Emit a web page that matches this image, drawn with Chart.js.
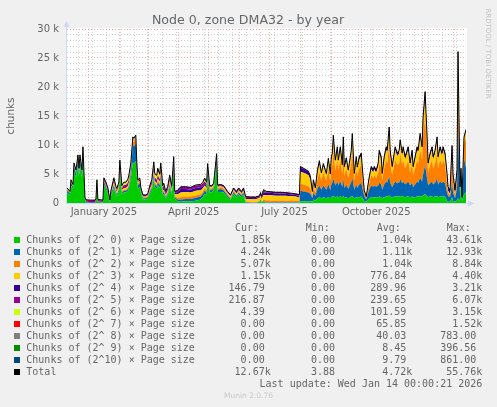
<!DOCTYPE html>
<html>
<head>
<meta charset="utf-8">
<script src="https://cdn.jsdelivr.net/npm/chart.js@4.4.1/dist/chart.umd.min.js"></script>
<style>
html, body { margin: 0; padding: 0; background: #f0f0f0; }
#wrap { position: relative; width: 497px; height: 407px; overflow: hidden; }
#wrap canvas { position: absolute; left: 0; top: 0; }
.lg { position: absolute; font: 10px "DejaVu Sans Mono", monospace; color: #666; white-space: pre; line-height: 12px; }
.sw { position: absolute; width: 6px; height: 6px; }
</style>
</head>
<body>
<div id="wrap"><canvas id="chart" width="497" height="407"></canvas></div>
<script>
// days since 2024-12-10 (left edge of the year graph)
const days = [
  0,3,4,6,7,9,11,12,13,15, 16,18,19,24,28,29,30,31,36,37,
  39,41,43,44,47,49,50,52,53,55, 57,59,61,62,64,66,67,69,70,71,
  73,74,76,79,81,83,85,87,88,90, 91,93,94,96,97,99,101,103,105,107,
  108,111,114,119,124,129,134,136,138,140, 141,143,145,147,150,151,154,157,161,164,
  167,170,172,175,177,179,184,189,193,194, 195,197,200,204,209,214,219,224,229,233,
  234,237,240,242,244,246,247,249,251,253, 255,257,260,262,264,265,266,267,269,271,
  272,274,276,277,278,280,282,283,285,286, 288,290,291,293,295,296,298,300,302,303,
  305,307,308,310,312,313,315,316,318,320, 321,323,324,326,328,329,331,333,334,336,
  337,339,341,342,344,346,347,349,351,352, 354,356,357,359,361,362,364,366,367,369,
  371,372,374,376,377,379,381,382,384,386, 387,389,391,392,394,395,396,398,400
];

// values in thousands of chunks
const order0 = [
  1.8,1.4,3.0,2.4,5.4,4.4,6.5,4.6,6.5,4.5, 7.7,0.6,0.1,0,0,0.3,3.2,0.2,0.1,3.2,
  2.4,1.6,0.1,1.2,2.6,1.6,1.2,2.0,5.1,1.6, 1.8,1.8,2.1,2.5,4.3,7.0,6.8,7.2,4.7,2.5,
  2.7,1.8,0.6,0.6,0.8,1.6,2.2,4.3,2.8,2.4, 3.1,2.6,4.1,1.4,1.6,0.8,1.4,2.8,1.4,5.5,
  0.8,0.3,0.2,0.3,0.3,0.4,0.6,1.0,1.6,1.4, 4.3,1.8,1.8,2.2,6.7,1.9,1.9,1.8,1.0,0.5,
  1.6,0.9,1.5,1.0,1.5,0.1,0,0,0.2,0.6, 0.1,0.2,0.05,0.05,0.05,0.05,0.05,0.05,0.05,0.05,
  0.3,0.3,0.3,0.3,0.3,0.2,0.6,0.4,0.8,1.0, 0.8,1.0,0.8,1.0,0.8,1.0,1.1,1.2,1.0,1.1,
  1.0,1.1,1.0,1.2,0.9,1.0,0.8,0.9,1.1,1.2, 0.8,1.0,0.9,1.0,1.1,0.9,0.4,0.2,0.6,0.8,
  1.0,1.0,1.0,1.0,1.0,1.1,1.0,0.8,1.0,1.1, 1.1,1.3,1.1,0.9,1.1,1.1,1.1,1.1,1.2,1.1,
  1.1,1.0,1.1,1.1,1.0,1.1,0.9,1.0,1.1,1.1, 1.2,1.1,1.3,1.5,1.2,1.0,1.1,1.1,1.0,1.1,
  1.2,1.0,1.1,1.1,1.1,1.1,0.3,0.2,0.2,1.0, 0.4,0.2,0.5,0.8,0.4,5.0,0.3,1.5,1.85
];
const order1 = [
  0.3,0.3,0.5,0.4,0.8,0.7,1.0,0.7,1.0,0.7, 1.1,0.2,0.05,0.05,0.05,0.05,0.3,0.05,0.05,0.4,
  0.4,0.3,0.1,0.3,0.4,0.3,0.3,0.3,0.6,0.2, 0.3,0.3,0.3,0.4,0.7,3.0,3.0,3.0,1.5,0.6,
  0.6,0.4,0.2,0.2,0.2,0.3,0.4,0.6,0.4,0.4, 0.5,0.4,0.6,0.3,0.3,0.2,0.3,0.4,0.3,0.6,
  0.2,0.3,0.4,0.4,0.4,0.5,0.5,0.5,0.5,0.4, 0.7,0.4,0.4,0.4,0.8,0.4,0.5,0.4,0.3,0.2,
  0.3,0.3,0.3,0.3,0.3,0.1,0.05,0.05,0.05,0.1, 0.05,0.1,0.1,0.1,0.1,0.1,0.1,0.1,0.1,0.1,
  1.8,1.7,1.6,1.5,1.3,0.6,1.2,0.8,1.6,2.0, 1.5,2.0,1.5,2.2,1.4,2.2,2.4,3.0,2.0,2.6,
  2.0,2.6,1.8,3.0,1.7,2.1,1.6,1.9,2.5,3.1, 1.5,2.2,1.7,2.2,2.4,1.7,0.8,0.4,1.2,1.5,
  2.0,1.8,2.0,1.8,2.0,2.4,2.2,1.5,2.2,2.6, 2.4,3.3,2.4,1.8,2.3,2.6,2.3,2.4,2.9,2.3,
  2.6,2.2,2.4,2.6,2.0,2.4,1.8,2.2,2.6,2.4, 3.1,2.6,3.6,5.0,3.0,2.0,2.3,2.6,2.2,2.4,
  3.0,2.2,2.6,2.3,2.6,2.3,1.5,1.0,0.8,2.5, 1.4,0.6,2.0,12.0,1.0,0.5,0.3,6.2,4.24
];
const order2 = [
  0.2,0.2,0.3,0.2,0.4,0.4,0.5,0.4,0.5,0.3, 0.5,0.1,0,0,0,0,0.2,0,0,0.2,
  0.2,0.2,0,0.2,0.2,0.2,0.2,0.2,0.3,0.2, 0.2,0.2,0.2,0.3,0.3,0.7,0.7,0.8,0.4,0.3,
  0.3,0.2,0.2,0.2,0.2,0.3,0.3,0.3,0.3,0.3, 0.3,0.3,0.3,0.2,0.2,0.2,0.2,0.3,0.2,0.4,
  0.2,0.3,0.4,0.4,0.4,0.4,0.4,0.4,0.4,0.4, 0.5,0.3,0.3,0.3,0.4,0.3,0.3,0.3,0.2,0.2,
  0.2,0.2,0.2,0.2,0.2,0.1,0.1,0.1,0.1,0.1, 0.1,0.3,0.3,0.3,0.3,0.3,0.3,0.3,0.25,0.2,
  1.2,1.2,1.1,1.1,0.9,0.4,1.0,0.6,1.6,2.3, 1.6,2.2,1.5,2.7,1.5,2.8,3.0,4.8,2.6,3.8,
  2.6,3.8,2.2,4.5,2.1,2.8,1.9,2.3,3.4,4.9, 1.6,2.8,2.1,2.8,3.1,2.0,0.5,0.2,0.8,1.1,
  1.8,1.5,1.8,1.5,2.2,3.3,2.8,1.6,2.8,3.7, 3.3,5.6,3.3,2.1,3.2,3.7,3.2,3.3,4.3,3.2,
  3.7,2.8,3.3,3.7,2.2,3.3,2.1,2.8,3.7,3.3, 4.9,3.7,6.9,8.2,4.5,2.2,3.2,3.7,2.8,3.3,
  4.5,2.8,3.7,3.2,3.7,3.2,1.5,0.6,0.4,3.7, 1.6,0.5,1.8,8.2,0.7,0.3,0.2,2.5,5.07
];
const order3 = [
  0.1,0,0.1,0.1,0.1,0.1,0.1,0.1,0.1,0.1, 0.1,0,0,0,0,0,0,0,0,0.1,
  0.1,0,0,0,0.3,0.2,0.2,0.3,0.3,0.2, 0.3,0.3,0.3,0.3,0.3,0.2,0.2,0.2,0.1,0.2,
  0.2,0.1,0.1,0.1,0.1,0.2,0.2,0.3,0.3,0.3, 0.3,0.3,0.3,0.2,0.2,0.2,0.2,0.3,0.3,0.3,
  0.3,0.6,0.8,0.8,0.7,0.8,0.7,0.6,0.5,0.4, 0.4,0.2,0.2,0.2,0.2,0.2,0.2,0.2,0.2,0.2,
  0.2,0.2,0.2,0.2,0.2,0.4,0.5,0.5,0.5,0.5, 0.5,0.8,0.9,0.9,0.8,0.8,0.8,0.7,0.7,0.6,
  2.1,2.0,2.0,1.9,1.5,0.5,0.8,0.5,1.1,1.4, 1.0,1.2,0.9,1.4,0.9,1.5,1.5,2.0,1.4,1.7,
  1.4,1.7,1.2,2.1,1.2,1.4,1.0,1.2,1.6,2.2, 0.9,1.5,1.1,1.5,1.5,1.2,0.3,0.2,0.5,0.7,
  1.0,0.9,1.0,0.9,1.2,1.7,1.5,0.9,1.5,1.8, 1.7,2.2,1.7,1.1,1.5,1.8,1.5,1.7,2.0,1.5,
  1.8,1.5,1.7,1.8,1.2,1.7,1.1,1.5,1.8,1.7, 2.2,1.8,2.4,3.0,2.1,1.2,1.5,1.8,1.5,1.7,
  2.1,1.5,1.8,1.5,1.8,1.5,0.9,0.3,0.2,1.7, 0.8,0.3,0.6,3.2,0.3,0.1,0.1,0.8,1.15
];
const order4 = [
  0,0,0,0,0,0,0,0,0,0, 0,0,0.1,0.1,0.1,0.05,0,0.05,0.05,0,
  0,0,0,0,0,0,0,0,0,0, 0,0,0,0,0,0,0,0,0,0,
  0,0,0.1,0.1,0.1,0.1,0.1,0.1,0,0, 0,0,0,0.2,0.2,0.2,0.2,0.2,0.2,0.3,
  0.2,0.4,0.6,0.5,0.5,0.5,0.5,0.4,0.3,0.3, 0.3,0.1,0.1,0.1,0.1,0.1,0.1,0.1,0.1,0.1,
  0.1,0.2,0.2,0.1,0.2,0.2,0.2,0.2,0.2,0.2, 0.2,0.4,0.4,0.4,0.4,0.4,0.35,0.35,0.3,0.3,
  0.7,0.7,0.6,0.6,0.5,0.2,0.3,0.2,0.4,0.5, 0.3,0.4,0.3,0.4,0.3,0.5,0.5,0.6,0.4,0.5,
  0.4,0.5,0.4,0.6,0.4,0.5,0.4,0.5,0.5,0.6, 0.3,0.5,0.4,0.5,0.5,0.4,0.2,0.1,0.3,0.4,
  0.5,0.5,0.5,0.5,0.5,0.6,0.5,0.3,0.5,0.5, 0.6,0.7,0.6,0.4,0.5,0.5,0.5,0.6,0.5,0.5,
  0.5,0.5,0.6,0.5,0.5,0.6,0.4,0.5,0.5,0.6, 0.6,0.5,0.7,0.9,0.6,0.5,0.5,0.5,0.5,0.6,
  0.6,0.5,0.5,0.5,0.5,0.5,0.9,0.7,0.6,1.0, 0.8,0.6,0.8,1.6,0.4,0.1,0.1,0.2,0.15
];
const order5 = [
  0.1,0.1,0.1,0.1,0.1,0.1,0.1,0.1,0.1,0.1, 0.1,0.1,0.2,0.25,0.25,0.2,0.2,0.2,0.2,0.3,
  0.3,0.3,0.2,0.2,0.4,0.3,0.3,0.4,0.5,0.4, 0.5,0.5,0.6,0.6,0.5,0.1,0.1,0.1,0.1,0.2,
  0.3,0.2,0.2,0.2,0.2,0.4,0.5,0.6,0.6,0.6, 0.6,0.5,0.5,0.4,0.5,0.3,0.4,0.5,0.4,0.5,
  0.3,0.3,0.4,0.4,0.4,0.4,0.4,0.4,0.4,0.4, 0.4,0.2,0.2,0.2,0.2,0.2,0.2,0.2,0.2,0.2,
  0.2,0.2,0.2,0.2,0.2,0.2,0.2,0.2,0.2,0.2, 0.2,0.3,0.2,0.2,0.2,0.2,0.2,0.2,0.2,0.2,
  0.2,0.1,0.1,0.1,0.1,0.1,0.1,0.1,0.1,0.1, 0,0,0.1,0,0.1,0,0.1,0.1,0,0,
  0,0,0,0,0,0,0,0,0,0, 0,0,0,0,0,0,0,0,0,0,
  0,0,0,0,0,0,0,0,0,0, 0,0,0,0,0,0,0,0,0,0,
  0,0,0,0,0,0,0,0,0,0, 0,0,0,0.6,0,0,0,0,0,0,
  0,0,0,0,0,0,0,0,0,0, 0,0,0,0.2,0,0,0,0.2,0.22
];
const order6 = [
  0,0,0,0,0,0,0,0,0,0, 0,0,0,0,0,0,0,0,0,0,
  0.1,0.1,0,0.1,0.3,0.2,0.2,0.3,0.4,0.3, 0.4,0.4,0.4,0.5,0.5,0.1,0.1,0.1,0.1,0.1,
  0.1,0,0,0,0,0.1,0.3,0.6,0.5,0.6, 0.7,0.5,0.5,0.2,0.3,0.1,0.2,0.2,0.1,0.2,
  0,0,0,0,0,0.1,0.1,0.1,0.3,0.2, 0.1,0,0,0,0,0,0,0,0,0,
  0,0,0,0,0,0,0,0,0,0.1, 0,0.2,0.05,0,0,0,0,0,0,0,
  0,0,0,0,0,0,0,0,0,0, 0,0,0,0,0,0,0,0,0,0,
  0,0,0,0,0,0,0,0,0,0, 0,0,0,0,0,0,0,0,0,0,
  0,0,0,0,0,0,0,0,0,0, 0,0,0,0,0,0,0,0,0,0,
  0,0,0,0,0,0,0,0,0,0, 0,0,0,0,0,0,0,0,0,0,
  0,0,0,0,0,0,0,0,0,0, 0,0,0,0,0,0,0,0,0
];
const order7 = [
  0.05,0,0,0,0,0,0,0,0,0, 0.05,0,0.1,0.1,0.1,0.1,0.1,0.1,0.1,0.1,
  0.1,0.1,0.1,0.1,0.1,0.1,0.1,0.1,0.1,0.1, 0.1,0.1,0.1,0.1,0.2,0,0,0,0,0,
  0,0,0,0,0,0,0,0.2,0.2,0.2, 0.4,0.4,0.5,0.1,0.1,0,0,0.1,0.1,0.1,
  0,0,0,0,0,0,0,0.1,0.3,0.1, 0,0,0,0,0,0,0,0,0,0,
  0,0,0,0,0,0,0,0,0,0, 0,0,0,0,0,0,0,0,0,0,
  0,0,0,0,0,0,0,0,0,0, 0,0,0,0,0,0,0,0,0,0,
  0,0,0,0,0,0,0,0,0,0, 0,0,0,0,0,0,0,0,0,0,
  0,0,0,0,0,0,0,0,0,0, 0,0,0,0,0,0,0,0,0,0,
  0,0,0,0,0,0,0,0,0,0, 0,0,0,0,0,0,0,0,0,0,
  0,0,0,0,0,0,0,0,0,0, 0,0,0,0,0,0,0,0,0
];
const order8 = [
  0.05,0,0,0,0.1,0,0.1,0.1,0.1,0, 0.15,0,0,0,0,0,0,0,0,0.05,
  0,0,0,0,0.05,0,0,0,0.1,0, 0,0,0.1,0.1,0.1,0.2,0.2,0.2,0.1,0.1,
  0.1,0,0,0,0,0,0,0.1,0,0, 0.1,0,0.1,0,0,0,0,0,0,0.1,
  0,0,0,0,0,0,0,0,0,0, 0.1,0,0,0,0.1,0,0,0,0,0,
  0,0,0,0,0,0,0,0,0,0, 0,0,0,0,0,0,0,0,0,0,
  0,0,0,0,0,0,0,0,0,0, 0,0,0,0,0,0,0,0,0,0,
  0,0,0,0,0,0,0,0,0,0, 0,0,0,0,0,0,0,0,0,0,
  0,0,0,0,0,0,0,0,0,0, 0,0,0,0,0,0,0,0,0,0,
  0,0,0,0,0,0,0,0,0,0, 0,0,0,0,0,0,0,0,0,0,
  0,0,0,0,0,0,0,0,0,0, 0,0,0,0,0,0,0,0,0
];
const order9 = [
  0,0,0,0,0,0,0,0,0,0, 0,0,0,0,0,0,0,0,0,0,
  0,0,0,0,0,0,0,0,0,0, 0,0,0,0,0,0.05,0.05,0.05,0,0,
  0,0,0,0,0,0,0,0,0,0, 0,0,0,0,0,0,0,0,0,0,
  0,0,0,0,0,0,0,0,0,0, 0,0,0,0,0,0,0,0,0,0,
  0,0,0,0,0,0,0,0,0,0, 0,0,0,0,0,0,0,0,0,0,
  0,0,0,0,0,0,0,0,0,0, 0,0,0,0,0,0,0,0,0,0,
  0,0,0,0,0,0,0,0,0,0, 0,0,0,0,0,0,0,0,0,0,
  0,0,0,0,0,0,0,0,0,0, 0,0,0,0,0,0,0,0,0,0,
  0,0,0,0,0,0,0,0,0,0, 0,0,0,0,0,0,0,0,0,0,
  0,0,0,0,0,0,0,0,0,0, 0,0,0,0,0,0,0,0,0
];
const order10 = [
  0,0,0,0,0,0,0,0,0,0, 0,0,0,0,0,0,0,0,0,0,
  0,0,0,0,0,0,0,0,0,0, 0,0,0,0,0,0.05,0.05,0.05,0,0,
  0,0,0,0,0,0,0,0,0,0, 0,0,0,0,0,0,0,0,0,0,
  0,0,0,0,0,0,0,0,0,0, 0,0,0,0,0,0,0,0,0,0,
  0,0,0,0,0,0,0,0,0,0, 0,0,0,0,0,0,0,0,0,0,
  0,0,0,0,0,0,0,0,0,0, 0,0,0,0,0,0,0,0,0,0,
  0,0,0,0,0,0,0,0,0,0, 0,0,0,0,0,0,0,0,0,0,
  0,0,0,0,0,0,0,0,0,0, 0,0,0,0,0,0,0,0,0,0,
  0,0,0,0,0,0,0,0,0,0, 0,0,0,0,0,0,0,0,0,0,
  0,0,0,0,0,0,0,0,0,0, 0,0,0,0.1,0,0,0,0,0
];

const seriesNames = [
  'Chunks of (2^ 0) × Page size', 'Chunks of (2^ 1) × Page size', 'Chunks of (2^ 2) × Page size',
  'Chunks of (2^ 3) × Page size', 'Chunks of (2^ 4) × Page size', 'Chunks of (2^ 5) × Page size',
  'Chunks of (2^ 6) × Page size', 'Chunks of (2^ 7) × Page size', 'Chunks of (2^ 8) × Page size',
  'Chunks of (2^ 9) × Page size', 'Chunks of (2^10) × Page size', 'Total'
];
const seriesColors = ['#00CC00', '#0066B3', '#FF8000', '#FFCC00', '#330099', '#990099',
  '#CCFF00', '#FF0000', '#808080', '#008F00', '#00487D', '#000000'];

const curValues = ['1.85k', '4.24k', '5.07k', '1.15k', '146.79', '216.87', '4.39', '0.00', '0.00', '0.00', '0.00', '12.67k'];
const minValues = ['0.00', '0.00', '0.00', '0.00', '0.00', '0.00', '0.00', '0.00', '0.00', '0.00', '0.00', '3.88'];
const avgValues = ['1.04k', '1.11k', '1.04k', '776.84', '289.96', '239.65', '101.59', '65.85', '40.03', '8.45', '9.79', '4.72k'];
const maxValues = ['43.61k', '12.93k', '8.84k', '4.40k', '3.21k', '6.07k', '3.15k', '1.52k', '783.00', '396.56', '861.00', '55.76k'];

// x axis: month grid lines, two-weekly minor lines, quarter labels
const startDate = Date.UTC(2024, 11, 10);
const dayOf = (y, m, d) => Math.round((Date.UTC(y, m, d) - startDate) / 864e5);
const monthStarts = [[2025, 0], [2025, 1], [2025, 2], [2025, 3], [2025, 4], [2025, 5], [2025, 6],
  [2025, 7], [2025, 8], [2025, 9], [2025, 10], [2025, 11], [2026, 0]];
const minorDays = [12, 26, 40, 54, 68, 82, 96, 110, 124, 138, 152, 166, 180, 194, 208, 222,
  236, 250, 264, 278, 292, 306, 320, 334, 348, 362, 376, 390];
const quarterLabels = [['January 2025', 2025, 0], ['April 2025', 2025, 3], ['July 2025', 2025, 6], ['October 2025', 2025, 9]];

const majorDays = monthStarts.map(([y, m]) => dayOf(y, m, 1));
const labelAt = new Map(quarterLabels.map(([t, y, m]) => [dayOf(y, m, 16), t]));
const xTickValues = [...new Set([...minorDays, ...majorDays, ...labelAt.keys()])].sort((a, b) => a - b);

const MAJOR = 'rgba(235, 120, 120, 0.6)';
const MINOR = 'rgba(150, 150, 150, 0.45)';

const stacks = [order0, order1, order2, order3, order4, order5, order6, order7, order8, order9, order10];
const datasets = stacks.map((vals, i) => ({
  label: seriesNames[i],
  data: days.map((d, j) => ({ x: d, y: vals[j] })),
  backgroundColor: seriesColors[i],
  borderColor: 'rgba(0,0,0,0)',
  borderWidth: 0,
  pointRadius: 0,
  tension: 0,
  fill: i === 0 ? 'origin' : '-1',
  stack: 'chunks',
}));
datasets.push({
  label: 'Total',
  data: days.map((d, j) => ({ x: d, y: stacks.reduce((s, v) => s + v[j], 0) })),
  borderColor: '#000000',
  borderWidth: 1,
  pointRadius: 0,
  tension: 0,
  fill: false,
  stack: 'total',
  order: -1,
});

const frame = {
  id: 'frame',
  beforeDraw(chart) {
    const { ctx, chartArea: a } = chart;
    ctx.save();
    ctx.fillStyle = '#f0f0f0';
    ctx.fillRect(0, 0, chart.width, chart.height);
    ctx.fillStyle = '#ffffff';
    ctx.fillRect(a.left, a.top - 1, a.right - a.left + 1, a.bottom - a.top + 1);
    ctx.restore();
  },
  afterDraw(chart) {
    const { ctx, chartArea: a } = chart;
    ctx.save();
    // axes and arrows
    ctx.strokeStyle = '#CFD6F8';
    ctx.fillStyle = '#CFD6F8';
    ctx.lineWidth = 1;
    ctx.beginPath();
    ctx.moveTo(a.left - 0.5, a.bottom + 1);
    ctx.lineTo(a.left - 0.5, a.top - 3);
    ctx.moveTo(a.left - 1, a.bottom + 0.5);
    ctx.lineTo(a.right + 3, a.bottom + 0.5);
    ctx.stroke();
    ctx.beginPath();
    ctx.moveTo(a.left - 3.5, a.top - 2);
    ctx.lineTo(a.left + 2.5, a.top - 2);
    ctx.lineTo(a.left - 0.5, a.top - 8);
    ctx.closePath();
    ctx.fill();
    ctx.beginPath();
    ctx.moveTo(a.right + 2, a.bottom - 2.5);
    ctx.lineTo(a.right + 2, a.bottom + 3.5);
    ctx.lineTo(a.right + 8, a.bottom + 0.5);
    ctx.closePath();
    ctx.fill();

    // title
    ctx.fillStyle = '#666666';
    ctx.textAlign = 'center';
    ctx.textBaseline = 'alphabetic';
    ctx.font = '12.6px "DejaVu Sans"';
    ctx.fillText('Node 0, zone DMA32 - by year', 248, 24);

    // vertical axis label
    ctx.save();
    ctx.translate(11.5, 116);
    ctx.rotate(-Math.PI / 2);
    ctx.font = '10.4px "DejaVu Sans"';
    ctx.textBaseline = 'middle';
    ctx.fillText('chunks', 0, 0);
    ctx.restore();

    // rrdtool watermark
    ctx.save();
    ctx.translate(487.5, 53.5);
    ctx.rotate(Math.PI / 2);
    ctx.font = '7px "DejaVu Sans"';
    ctx.fillStyle = '#c4c4c4';
    ctx.textBaseline = 'middle';
    ctx.fillText('RRDTOOL / TOBI OETIKER', 0, 0);
    ctx.restore();

    ctx.restore();
  }
};

Chart.defaults.font.family = '"DejaVu Sans", sans-serif';
Chart.defaults.color = '#666666';

new Chart(document.getElementById('chart'), {
  type: 'line',
  data: { datasets },
  plugins: [frame],
  options: {
    responsive: false,
    animation: false,
    devicePixelRatio: 1,
    events: [],
    layout: { padding: { top: 29, right: 31, left: 0, bottom: 0 } },
    plugins: { legend: { display: false }, tooltip: { enabled: false }, title: { display: false } },
    scales: {
      x: {
        type: 'linear',
        min: 0,
        max: 400,
        afterBuildTicks: s => { s.ticks = xTickValues.map(v => ({ value: v })); },
        afterFit: s => { s.height = 204; },
        grid: {
          drawTicks: false,
          lineWidth: 1,
          color: c => majorDays.includes(c.tick.value) ? MAJOR
            : minorDays.includes(c.tick.value) ? MINOR : 'rgba(0,0,0,0)',
        },
        border: { display: false, dash: [1, 2] },
        ticks: {
          autoSkip: false,
          maxRotation: 0,
          minRotation: 0,
          padding: 3,
          color: '#666666',
          font: { size: 10 },
          callback: v => labelAt.get(v) || '',
        },
      },
      y: {
        stacked: true,
        min: 0,
        max: 30,
        afterFit: s => { s.width = 67; },
        grid: {
          drawTicks: false,
          lineWidth: 1,
          color: c => c.tick.value % 5 === 0 ? MAJOR : MINOR,
        },
        border: { display: false, dash: [1, 2] },
        ticks: {
          stepSize: 1,
          autoSkip: false,
          padding: 8,
          color: '#666666',
          font: { size: 10 },
          callback: v => v % 5 !== 0 ? '' : (v === 0 ? '0' : v + ' k'),
        },
      },
    },
  },
});

// legend table, drawn as text below the graph
const wrap = document.getElementById('wrap');
function put(text, style, cls) {
  const d = document.createElement('div');
  d.className = cls || 'lg';
  d.textContent = text;
  Object.assign(d.style, style);
  wrap.appendChild(d);
  return d;
}
const rowTop = i => 233.5 + 12 * i;
const colRight = [270.7, 341, 412.3, 482.3];
const headLeft = [235, 305.7, 376.7, 446.7];
['Cur:', 'Min:', 'Avg:', 'Max:'].forEach((h, i) => put(h, { left: headLeft[i] + 'px', top: (rowTop(0) - 12) + 'px' }));
const pad = v => /k$/.test(v) ? v : v + ' ';
seriesNames.forEach((name, i) => {
  const sw = put('', { left: '14px', top: (rowTop(i) + 3.2) + 'px', background: seriesColors[i] }, 'sw');
  put(name, { left: '26.3px', top: rowTop(i) + 'px' });
  [curValues[i], minValues[i], avgValues[i], maxValues[i]].forEach((v, c) =>
    put(pad(v), { right: (497 - colRight[c]) + 'px', top: rowTop(i) + 'px', textAlign: 'right' }));
});
put('Last update: Wed Jan 14 00:00:21 2026', { right: (497 - 482.3) + 'px', top: rowTop(12) + 'px' });
put('Munin 2.0.76', { left: '0px', width: '497px', textAlign: 'center', top: '391px',
  font: '7.5px "DejaVu Sans", sans-serif', color: '#c8c8c8', lineHeight: '10px' });
</script>
</body>
</html>
